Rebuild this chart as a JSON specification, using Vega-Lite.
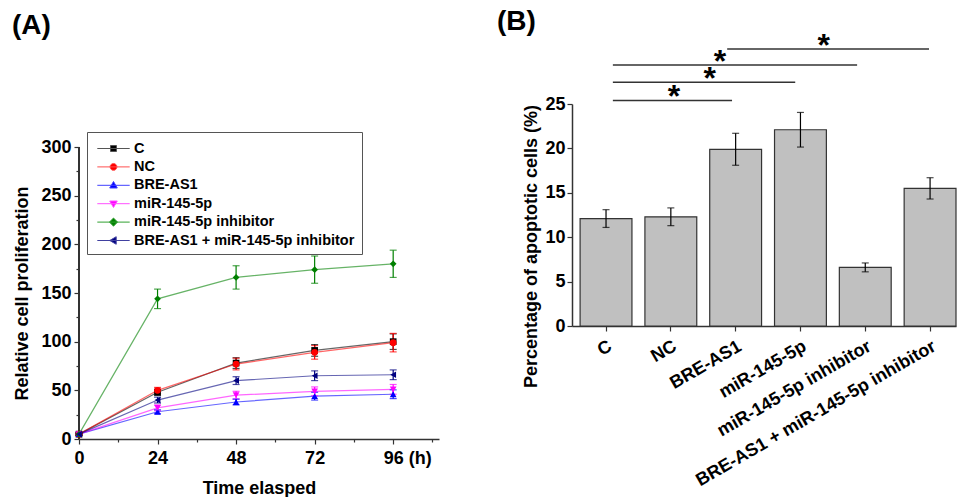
{
  "$schema": "https://vega.github.io/schema/vega-lite/v6.json",
  "padding": {"left": 12, "top": 7, "right": 0, "bottom": 0},
  "background": "white",
  "config": {
    "font": "Liberation Sans",
    "view": {"stroke": null},
    "axis": {
      "grid": false,
      "labelFont": "Liberation Sans",
      "labelFontWeight": "bold",
      "labelFontSize": 18,
      "labelColor": "black",
      "titleFont": "Liberation Sans",
      "titleFontWeight": "bold",
      "titleFontSize": 18,
      "titleColor": "black",
      "domainColor": "#333333",
      "domainWidth": 1.5,
      "tickColor": "#333333",
      "tickWidth": 1.2,
      "labelFlush": false,
      "labelOverlap": false,
      "labelLimit": 400
    }
  },
  "datasets": {
    "prolif": [
      {"group": "C", "time": 0, "value": 5, "err": 1},
      {"group": "C", "time": 24, "value": 48, "err": 3},
      {"group": "C", "time": 48, "value": 78, "err": 5.5},
      {"group": "C", "time": 72, "value": 91, "err": 6},
      {"group": "C", "time": 96, "value": 100, "err": 8},
      {"group": "NC", "time": 0, "value": 5, "err": 1},
      {"group": "NC", "time": 24, "value": 50, "err": 3},
      {"group": "NC", "time": 48, "value": 77, "err": 6},
      {"group": "NC", "time": 72, "value": 89, "err": 7},
      {"group": "NC", "time": 96, "value": 99, "err": 9.5},
      {"group": "BRE-AS1", "time": 0, "value": 5, "err": 1},
      {"group": "BRE-AS1", "time": 24, "value": 28, "err": 2},
      {"group": "BRE-AS1", "time": 48, "value": 38, "err": 3},
      {"group": "BRE-AS1", "time": 72, "value": 44, "err": 4},
      {"group": "BRE-AS1", "time": 96, "value": 46, "err": 4.5},
      {"group": "miR-145-5p", "time": 0, "value": 5, "err": 1},
      {"group": "miR-145-5p", "time": 24, "value": 32, "err": 3},
      {"group": "miR-145-5p", "time": 48, "value": 45, "err": 4},
      {"group": "miR-145-5p", "time": 72, "value": 49, "err": 4.5},
      {"group": "miR-145-5p", "time": 96, "value": 51, "err": 5},
      {"group": "miR-145-5p inhibitor", "time": 0, "value": 5, "err": 1},
      {"group": "miR-145-5p inhibitor", "time": 24, "value": 144, "err": 10},
      {"group": "miR-145-5p inhibitor", "time": 48, "value": 166, "err": 12},
      {"group": "miR-145-5p inhibitor", "time": 72, "value": 174, "err": 14},
      {"group": "miR-145-5p inhibitor", "time": 96, "value": 180, "err": 14},
      {"group": "BRE-AS1 + miR-145-5p inhibitor", "time": 0, "value": 5, "err": 1},
      {"group": "BRE-AS1 + miR-145-5p inhibitor", "time": 24, "value": 40, "err": 3},
      {"group": "BRE-AS1 + miR-145-5p inhibitor", "time": 48, "value": 60, "err": 4},
      {"group": "BRE-AS1 + miR-145-5p inhibitor", "time": 72, "value": 65, "err": 5},
      {"group": "BRE-AS1 + miR-145-5p inhibitor", "time": 96, "value": 66, "err": 5}
    ],
    "apop": [
      {"group": "C", "value": 12.1, "err": 1.0},
      {"group": "NC", "value": 12.3, "err": 1.0},
      {"group": "BRE-AS1", "value": 19.9, "err": 1.8},
      {"group": "miR-145-5p", "value": 22.1, "err": 1.95},
      {"group": "miR-145-5p inhibitor", "value": 6.6, "err": 0.5},
      {"group": "BRE-AS1 + miR-145-5p inhibitor", "value": 15.5, "err": 1.2}
    ],
    "sig": [
      {"from": 0.106, "to": 1.945, "level": 25.4, "star": 1.05, "label": "*"},
      {"from": 0.106, "to": 2.92, "level": 27.45, "star": 1.6, "label": "*"},
      {"from": 0.106, "to": 3.875, "level": 29.4, "star": 1.76, "label": "*"},
      {"from": 1.87, "to": 4.985, "level": 31.2, "star": 3.36, "label": "*"}
    ]
  },
  "align": "none",
  "spacing": 58,
  "hconcat": [
    {
      "width": 360,
      "height": 335,
      "title": {"text": "(A)", "anchor": "start", "frame": "group", "dx": -67, "offset": 42, "fontSize": 28, "fontWeight": "bold", "font": "Liberation Sans", "color": "black", "baseline": "alphabetic"},
      "data": {"name": "prolif"},
      "layer": [
        {
          "mark": {"type": "rule", "color": "#333333", "strokeWidth": 1.5},
          "encoding": {
            "x": {"datum": 0, "type": "quantitative", "axis": null},
            "y": {"datum": 0, "type": "quantitative", "axis": null},
            "y2": {"datum": 300}
          }
        },
        {
          "mark": {"type": "line", "strokeWidth": 1.2, "opacity": 0.6},
          "encoding": {
            "x": {"field": "time", "type": "quantitative", "scale": {"domain": [0, 110], "nice": false, "zero": false},
              "axis": {"values": [0, 24, 48, 72, 96], "title": "Time elasped", "tickSize": 5, "labelPadding": 5, "titlePadding": 12,
                "labelExpr": "datum.value == 96 ? '96 (h)' : datum.label",
                "labelAlign": {"condition": {"test": "datum.value == 96", "value": "left"}, "value": "center"},
                "labelOffset": {"condition": {"test": "datum.value == 96", "value": -10}, "value": 0}}},
            "y": {"field": "value", "type": "quantitative", "scale": {"domain": [0, 344.18], "nice": false},
              "axis": {"values": [0, 50, 100, 150, 200, 250, 300], "title": "Relative cell proliferation", "domain": false, "tickSize": 5, "labelPadding": 3, "titlePadding": 9, "titleY": 189}},
            "color": {"field": "group", "type": "nominal", "legend": null,
              "scale": {"domain": ["C", "NC", "BRE-AS1", "miR-145-5p", "miR-145-5p inhibitor", "BRE-AS1 + miR-145-5p inhibitor"],
                "range": ["#000000", "#ff0000", "#0000ff", "#ff00ff", "#008000", "#000080"]}}
          }
        },
        {
          "mark": {"type": "errorbar", "ticks": {"size": 7, "thickness": 1.2}, "thickness": 1.2},
          "encoding": {
            "x": {"field": "time", "type": "quantitative", "axis": null},
            "y": {"field": "value", "type": "quantitative", "axis": null},
            "yError": {"field": "err"},
            "color": {"field": "group", "type": "nominal", "legend": null}
          }
        },
        {
          "mark": {"type": "point", "filled": true, "size": 45, "opacity": 1},
          "encoding": {
            "x": {"field": "time", "type": "quantitative",
              "axis": {"orient": "bottom", "values": [12, 36, 60, 84, 108], "labels": false, "domain": false, "tickSize": 3, "title": null}},
            "y": {"field": "value", "type": "quantitative",
              "axis": {"orient": "left", "values": [25, 75, 125, 175, 225, 275], "labels": false, "domain": false, "tickSize": 3, "title": null}},
            "color": {"field": "group", "type": "nominal", "legend": null},
            "shape": {"field": "group", "type": "nominal", "legend": null,
              "scale": {"domain": ["C", "NC", "BRE-AS1", "miR-145-5p", "miR-145-5p inhibitor", "BRE-AS1 + miR-145-5p inhibitor"],
                "range": ["square", "circle", "triangle-up", "triangle-down", "diamond", "triangle-left"]}}
          }
        },
        {
          "transform": [{"filter": "false"}],
          "mark": {"type": "point", "filled": true, "opacity": 1, "strokeWidth": 1},
          "encoding": {
            "shape": {"field": "group", "type": "nominal",
              "scale": {"domain": ["C", "NC", "BRE-AS1", "miR-145-5p", "miR-145-5p inhibitor", "BRE-AS1 + miR-145-5p inhibitor"],
                "range": ["M-1.8,0H1.8M-0.33,-0.33H0.33V0.33H-0.33Z", "M-1.8,0H1.8M0.38,0A0.38,0.38,0,1,1,-0.38,0A0.38,0.38,0,1,1,0.38,0Z", "M-1.8,0H1.8M0,-0.42L0.42,0.3H-0.42Z", "M-1.8,0H1.8M0,0.42L0.42,-0.3H-0.42Z", "M-1.8,0H1.8M0,-0.45L0.45,0L0,0.45L-0.45,0Z", "M-1.8,0H1.8M-0.42,0L0.3,-0.42V0.42Z"]},
              "legend": {"orient": "none", "legendX": 8, "legendY": 28, "title": null, "padding": 7,
                "strokeColor": "#555555", "fillColor": "white", "symbolSize": 324, "symbolOffset": 10, "labelOffset": 11,
                "symbolStrokeWidth": 1, "symbolOpacity": 1,
                "rowPadding": 2.4, "labelFont": "Liberation Sans", "labelFontSize": 14.5, "labelFontWeight": "bold", "labelColor": "black", "labelLimit": 400}},
            "fill": {"field": "group", "type": "nominal",
              "scale": {"domain": ["C", "NC", "BRE-AS1", "miR-145-5p", "miR-145-5p inhibitor", "BRE-AS1 + miR-145-5p inhibitor"],
                "range": ["#000000", "#ff0000", "#0000ff", "#ff00ff", "#008000", "#000080"]},
              "legend": {"orient": "none", "legendX": 8, "legendY": 28, "title": null, "padding": 7,
                "strokeColor": "#555555", "fillColor": "white", "symbolSize": 324, "symbolOffset": 10, "labelOffset": 11,
                "symbolStrokeWidth": 1, "symbolOpacity": 1,
                "rowPadding": 2.4, "labelFont": "Liberation Sans", "labelFontSize": 14.5, "labelFontWeight": "bold", "labelColor": "black", "labelLimit": 400}},
            "stroke": {"field": "group", "type": "nominal",
              "scale": {"domain": ["C", "NC", "BRE-AS1", "miR-145-5p", "miR-145-5p inhibitor", "BRE-AS1 + miR-145-5p inhibitor"],
                "range": ["#555555", "#ff5050", "#4040ff", "#ff50ff", "#30a030", "#4040a0"]},
              "legend": {"orient": "none", "legendX": 8, "legendY": 28, "title": null, "padding": 7,
                "strokeColor": "#555555", "fillColor": "white", "symbolSize": 324, "symbolOffset": 10, "labelOffset": 11,
                "symbolStrokeWidth": 1, "symbolOpacity": 1,
                "rowPadding": 2.4, "labelFont": "Liberation Sans", "labelFontSize": 14.5, "labelFontWeight": "bold", "labelColor": "black", "labelLimit": 400}}
          }
        }
      ],
      "resolve": {"scale": {"shape": "independent", "fill": "independent", "stroke": "independent"}, "axis": {"x": "independent", "y": "independent"}}
    },
    {
      "width": 384,
      "height": 222,
      "title": {"text": "(B)", "anchor": "start", "frame": "group", "dx": -75, "offset": -28, "fontSize": 28, "fontWeight": "bold", "font": "Liberation Sans", "color": "black", "baseline": "alphabetic"},
      "layer": [
        {
          "data": {"name": "apop"},
          "layer": [
            {
              "mark": {"type": "bar", "fill": "#c0c0c0", "stroke": "#333333", "strokeWidth": 1.2},
              "encoding": {
                "x": {"field": "group", "type": "nominal", "sort": null,
                  "scale": {"paddingInner": 0.2, "paddingOuter": 0.0625, "align": 1},
                  "axis": {"title": null, "labelAngle": -30, "labelAlign": "right", "labelBaseline": "top", "labelPadding": 6, "tickSize": 5}},
                "y": {"field": "value", "type": "quantitative", "scale": {"domain": [0, 25], "nice": false},
                  "axis": {"values": [0, 5, 10, 15, 20, 25], "title": "Percentage of apoptotic cells (%)", "tickSize": 5, "labelPadding": 2, "titlePadding": 4, "titleY": 142}}
              }
            },
            {
              "mark": {"type": "errorbar", "color": "black", "ticks": {"size": 7, "thickness": 1.2}, "thickness": 1.2},
              "encoding": {
                "x": {"field": "group", "type": "nominal", "sort": null},
                "y": {"field": "value", "type": "quantitative", "title": "Percentage of apoptotic cells (%)"},
                "yError": {"field": "err"}
              }
            }
          ]
        },
        {
          "data": {"name": "sig"},
          "layer": [
            {
              "mark": {"type": "rule", "color": "#333333", "strokeWidth": 1.5},
              "encoding": {
                "x": {"field": "from", "type": "quantitative", "scale": {"domain": [-0.5247, 5.401], "nice": false, "zero": false},
                  "axis": {"orient": "bottom", "values": [0.5, 1.5, 2.5, 3.5, 4.5], "labels": false, "domain": false, "tickSize": 3, "title": null}},
                "x2": {"field": "to"},
                "y": {"field": "level", "type": "quantitative", "scale": {"domain": [0, 25], "nice": false},
                  "axis": {"orient": "left", "values": [2.5, 7.5, 12.5, 17.5, 22.5], "labels": false, "domain": false, "tickSize": 3, "title": null}}
              }
            },
            {
              "mark": {"type": "text", "fontSize": 32, "fontWeight": "bold", "baseline": "middle", "color": "black", "dy": -3},
              "encoding": {
                "x": {"field": "star", "type": "quantitative", "scale": {"domain": [-0.5247, 5.401], "nice": false, "zero": false}, "axis": null},
                "y": {"field": "level", "type": "quantitative", "axis": null},
                "text": {"field": "label"}
              }
            }
          ]
        }
      ],
      "resolve": {"scale": {"x": "independent"}, "axis": {"x": "independent", "y": "independent"}}
    }
  ]
}
